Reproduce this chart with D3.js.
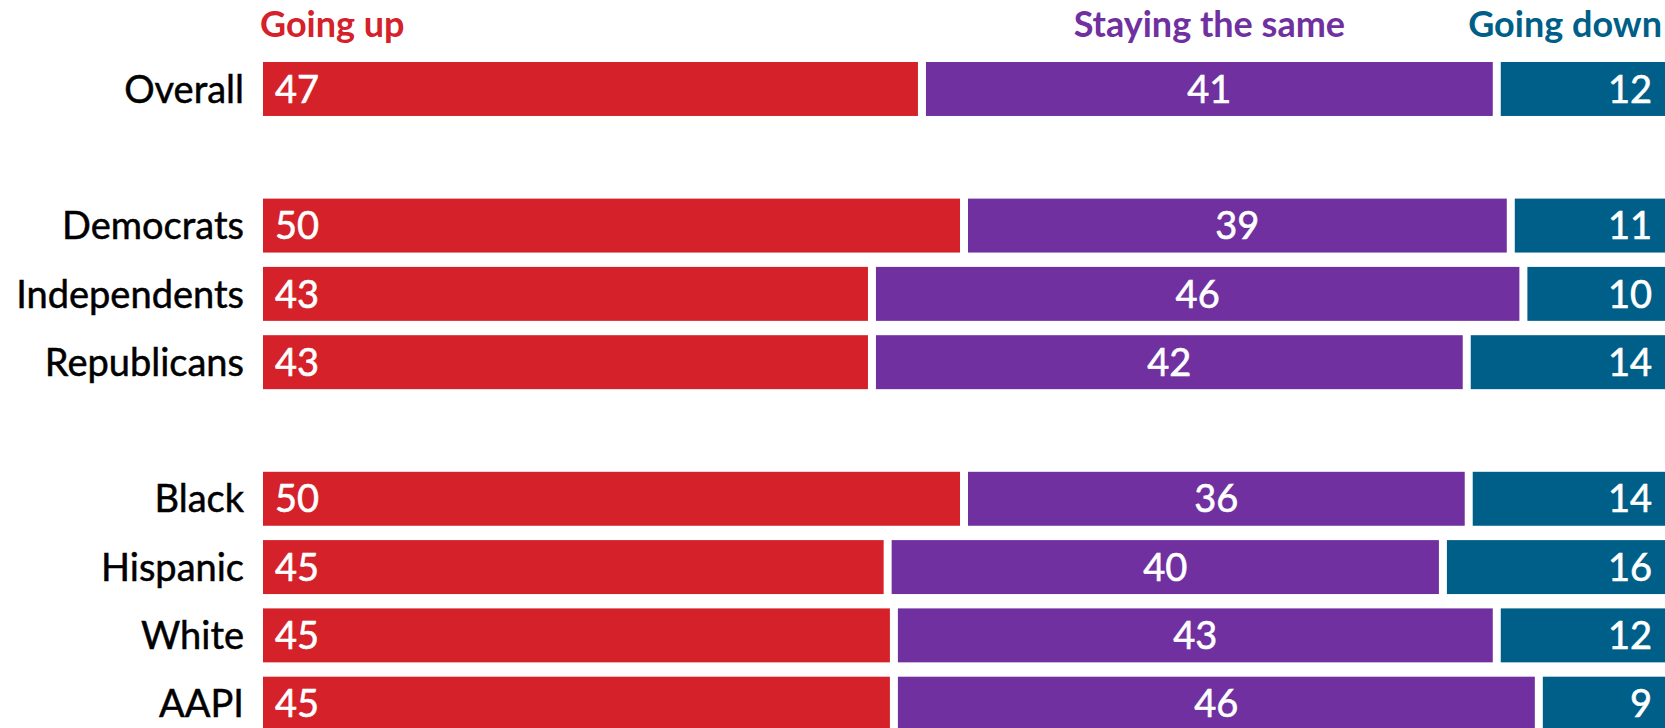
<!DOCTYPE html>
<html>
<head>
<meta charset="utf-8">
<script src="https://cdn.jsdelivr.net/npm/d3@7"></script>
<style>
  html, body { margin: 0; padding: 0; background: #fff; }
  svg { display: block; font-family: Lato, "Open Sans", sans-serif; }
</style>
</head>
<body>
<script>
// answer categories, in stacking order
const answers = ['up', 'same', 'down'];
const answerNames = ['Going up', 'Staying the same', 'Going down'];
const answerColors = ['#d4212a', '#70309f', '#005f88'];

// groups of rows (a blank row sits between groups)
const groups = [
  ['Overall'],
  ['Democrats', 'Independents', 'Republicans'],
  ['Black', 'Hispanic', 'White', 'AAPI']
];

const upValues   = [47, 50, 43, 43, 50, 45, 45, 45];
const sameValues = [41, 39, 46, 42, 36, 40, 43, 46];
const downValues = [12, 11, 10, 14, 14, 16, 12, 9];

const width = 1665;
const height = 728;
const margin = {top: 62, left: 263, right: 0};
const gap = 8;

const categories = groups.flat();
const rows = categories.map((name, i) => ({
  name,
  up: upValues[i],
  same: sameValues[i],
  down: downValues[i]
}));

// slot keys: categories plus spacer rows between groups
const slots = [];
groups.forEach((g, i) => {
  if (i > 0) slots.push('__gap' + i);
  g.forEach(c => slots.push(c));
});

const step = 68.3;
const y = d3.scaleBand()
  .domain(slots)
  .range([margin.top, margin.top + step * (slots.length - 0.21)])
  .paddingInner(0.21)
  .paddingOuter(0);

const x = d3.scaleLinear()
  .domain([0, 1])
  .range([margin.left, width - margin.right]);

const color = d3.scaleOrdinal().domain(answers).range(answerColors);

const series = d3.stack()
  .keys(answers)
  .offset(d3.stackOffsetExpand)(rows);

const svg = d3.select('body')
  .append('svg')
  .attr('width', width)
  .attr('height', height);

// bars
const layer = svg.selectAll('g.layer')
  .data(series)
  .enter()
  .append('g')
  .attr('class', 'layer')
  .attr('fill', d => color(d.key));

layer.selectAll('rect')
  .data(d => d.map(s => ({s, key: d.key, idx: d.index})))
  .enter()
  .append('rect')
  .attr('x', d => x(d.s[0]) + (d.idx > 0 ? gap / 2 : 0))
  .attr('y', d => y(d.s.data.name))
  .attr('width', d => x(d.s[1]) - x(d.s[0]) - (d.idx > 0 ? gap / 2 : 0) - (d.idx < answers.length - 1 ? gap / 2 : 0))
  .attr('height', y.bandwidth());

// value labels
const valueLabel = svg.append('g')
  .attr('fill', '#fff')
  .attr('stroke', '#fff')
  .attr('stroke-width', 0.6)
  .style('font-size', '38px')
  .style('font-weight', 400);

series.forEach((ser, k) => {
  valueLabel.selectAll('text.v' + k)
    .data(ser)
    .enter()
    .append('text')
    .attr('class', 'v' + k)
    .attr('x', d => k === 0 ? x(d[0]) + 12 : k === 1 ? (x(d[0]) + x(d[1])) / 2 : x(d[1]) - 13)
    .attr('y', d => y(d.data.name) + y.bandwidth() / 2)
    .attr('dy', '0.36em')
    .attr('text-anchor', k === 0 ? 'start' : k === 1 ? 'middle' : 'end')
    .text(d => d.data[ser.key]);
});

// category labels
svg.append('g')
  .selectAll('text')
  .data(categories)
  .enter()
  .append('text')
  .attr('x', margin.left - 19)
  .attr('y', d => y(d) + y.bandwidth() / 2)
  .attr('dy', '0.36em')
  .attr('text-anchor', 'end')
  .attr('fill', '#000')
  .attr('stroke', '#000')
  .attr('stroke-width', 0.5)
  .style('font-size', '38px')
  .text(d => d);

// column headers, placed over the Overall bar
const first = series.map(s => s[0]);
svg.append('g')
  .selectAll('text')
  .data(answers)
  .enter()
  .append('text')
  .attr('x', (d, i) => i === 0 ? x(first[i][0]) - 3 : i === 1 ? (x(first[i][0]) + x(first[i][1])) / 2 : x(first[i][1]) - 3)
  .attr('y', 37)
  .attr('text-anchor', (d, i) => i === 0 ? 'start' : i === 1 ? 'middle' : 'end')
  .attr('fill', d => color(d))
  .style('font-size', '36px')
  .style('font-weight', 700)
  .text((d, i) => answerNames[i]);
</script>
</body>
</html>
